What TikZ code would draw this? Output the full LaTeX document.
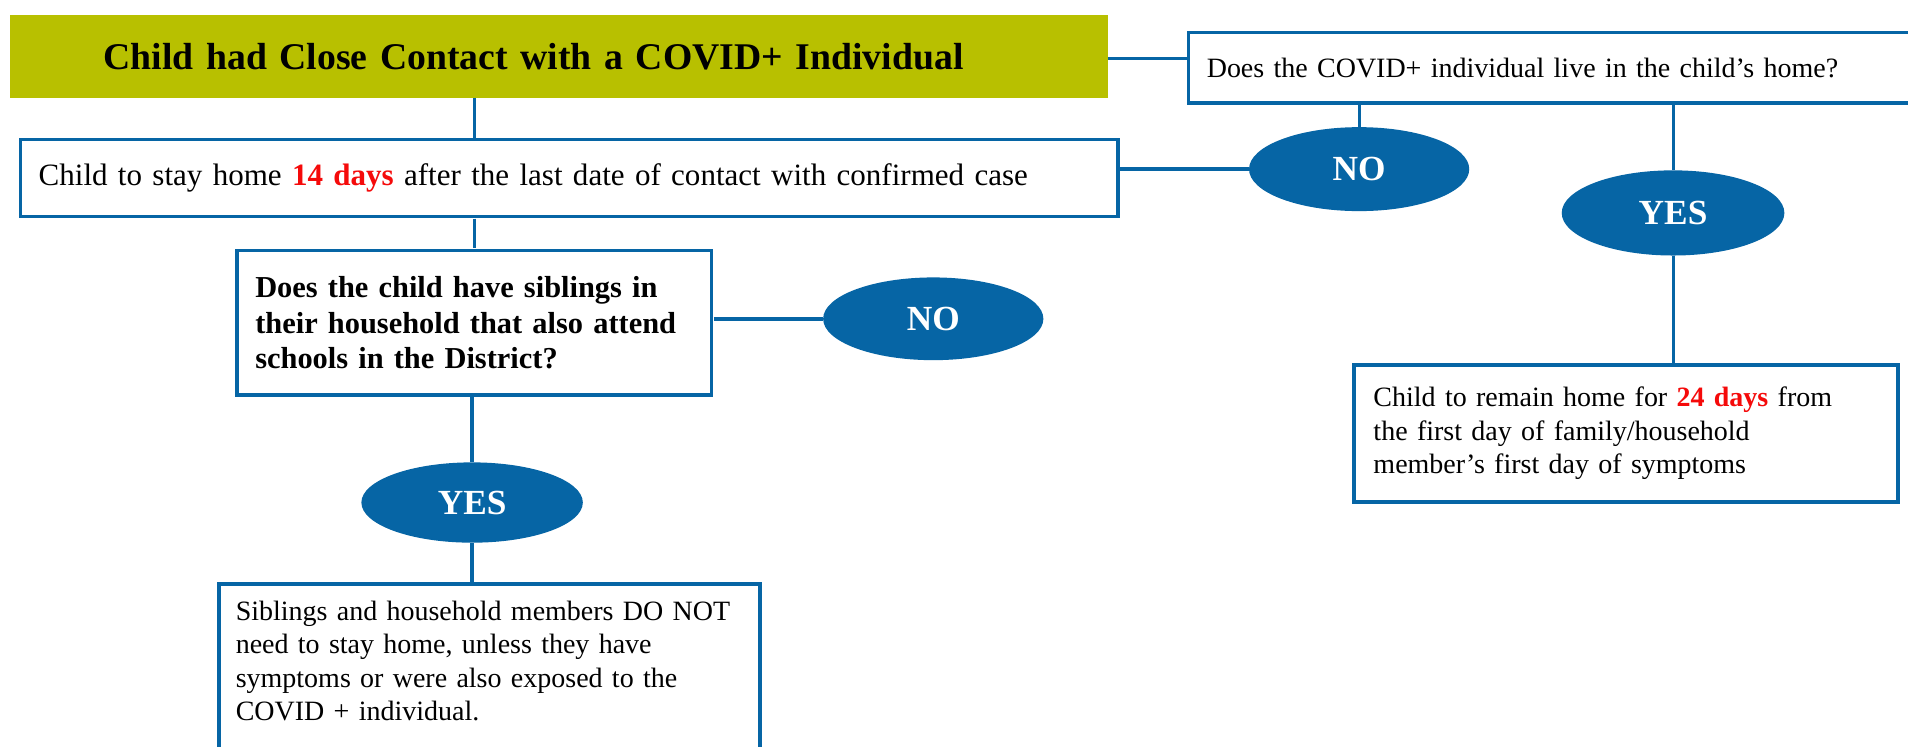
\documentclass[tikz,border=0pt]{standalone}
\usepackage{fontspec}
\setmainfont{Liberation Serif}
\usetikzlibrary{shapes.geometric,calc}
\definecolor{cblue}{RGB}{6,101,165}
\definecolor{cgreen}{RGB}{184,192,0}
\definecolor{cred}{RGB}{245,10,10}
\begin{document}
\begin{tikzpicture}[x=1pt,y=-1pt,scale=1.2168,
  every node/.append style={transform shape},
  conn/.style={draw=cblue,line width=3.6pt},
  qbox/.style={draw=cblue,line width=3.6pt,fill=white,anchor=north west,inner sep=0pt,align=left,font=\fontsize{23}{27.5}\selectfont},
  oval/.style={ellipse,fill=cblue,draw=none,inner sep=0pt,text=white,font=\fontsize{29}{29}\selectfont\bfseries}]
\useasboundingbox (0,0) rectangle (1568.1,613.9);
\clip (0,0) rectangle (1568.1,613.9);
\fill[white] (0,0) rectangle (1568.1,613.9);

% title
\node[fill=cgreen,anchor=north west,minimum width=902pt,minimum height=68pt,inner sep=0pt,text width=902pt,align=left,font=\fontsize{31}{36}\selectfont\bfseries]
  (title) at (8,12) {\hspace*{77pt}Child had Close Contact with a COVID+ Individual};

% question 1 (right)
\node[qbox,minimum width=960pt,minimum height=58pt,text width=960pt] (q1) at (975,25)
  {\hspace*{15pt}Does the COVID+ individual live in the child’s home?};

% box 2
\node[qbox,minimum width=902pt,minimum height=63pt,text width=902pt,font=\fontsize{25.5}{30}\selectfont] (box2) at (15,113)
  {\hspace*{15pt}Child to stay home {\color{cred}\bfseries 14 days} after the last date of contact with confirmed case};

% box 3
\node[qbox,minimum width=390pt,minimum height=119pt,text width=360pt,inner xsep=15pt,font=\fontsize{25}{29}\selectfont\bfseries] (box3) at (193,204)
  {Does the child have siblings in\\their household that also attend\\schools in the District?};

% right result box
\node[qbox,minimum width=447pt,minimum height=113pt,text width=415pt,inner xsep=16pt] (boxR) at (1111,298)
  {Child to remain home for {\color{cred}\bfseries 24 days} from\\the first day of family/household\\member’s first day of symptoms};

% bottom box
\node[qbox,minimum width=445pt,text width=417pt,inner xsep=14pt,inner ysep=0pt] (box4) at (178,478)
  {\parbox[c][320pt][t]{417pt}{\raggedright\vspace*{14pt}Siblings and household members DO NOT\\need to stay home, unless they have\\symptoms or were also exposed to the\\COVID + individual.}};

% ovals
\node[oval,minimum width=181pt,minimum height=69pt] (no1) at (1117,139) {NO};
\node[oval,minimum width=183pt,minimum height=70pt] (yes1) at (1375,175) {YES};
\node[oval,minimum width=181pt,minimum height=68pt] (no2) at (767,262) {NO};
\node[oval,minimum width=182pt,minimum height=66pt] (yes2) at (388,413) {YES};

% connectors
\draw[conn] (title.east |- 0,48) -- (q1.west |- 0,48);
\draw[conn] (box3.north |- title.south) -- (box3.north |- box2.north);
\draw[conn] (box3.north |- box2.south) -- (box3.north);
\draw[conn] (no1.west -| box2.east) -- (no1.west);
\draw[conn] (no1.north |- q1.south) -- (no1.north);
\draw[conn] (yes1.north |- q1.south) -- (yes1.north);
\draw[conn] (yes1.south) -- (yes1.south |- boxR.north);
\draw[conn] (no2.west -| box3.east) -- (no2.west);
\draw[conn] (box3.south -| yes2.north) -- (yes2.north);
\draw[conn] (yes2.south) -- (yes2.south |- box4.north);
\end{tikzpicture}
\end{document}
